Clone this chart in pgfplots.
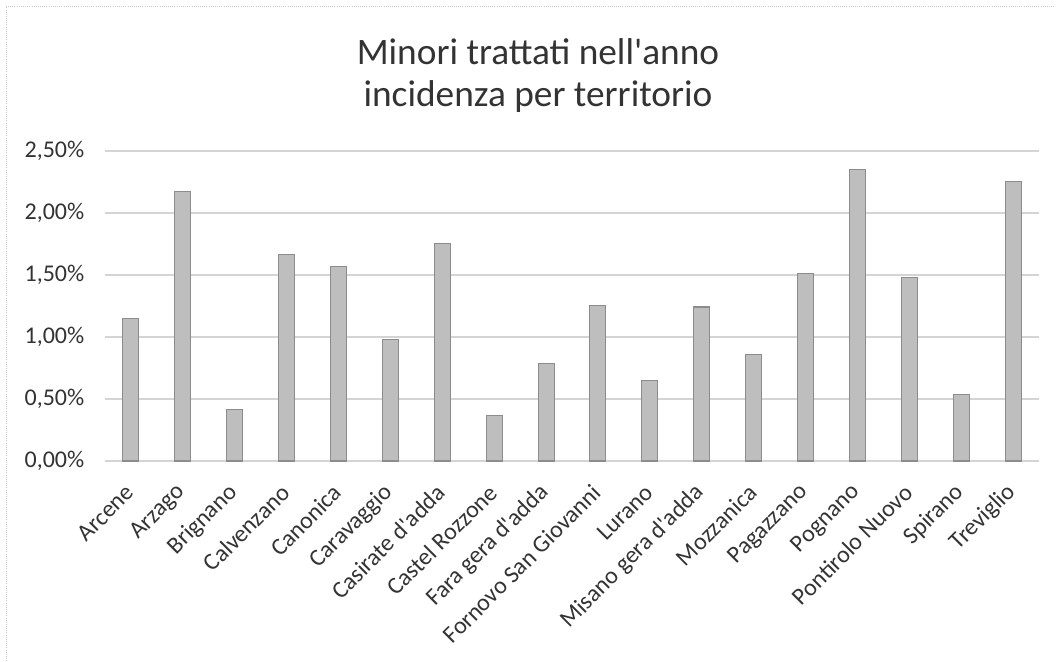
\documentclass[border=0pt]{standalone}
\usepackage{pgfplots}
\pgfplotsset{compat=1.18}
\usepackage{fontspec}
\setmainfont{Carlito}
\definecolor{barfill}{HTML}{BEBEBE}
\definecolor{barline}{HTML}{8C8C8C}
\definecolor{gridc}{HTML}{D4D4D4}
\definecolor{txt}{HTML}{333333}
\begin{document}
\begin{tikzpicture}
\path[use as bounding box] (-78.75pt,-150pt) rectangle (713.25pt,345.75pt);
\draw[gray!45, densely dotted, line width=0.6pt] (-74.25pt,-150pt) -- (-74.25pt,341.25pt) -- (713.25pt,341.25pt);
\node[anchor=base, text=txt, font=\fontsize{28}{33}\selectfont] at (324.75pt,297.5pt) {Minori trattati nell\textquotesingle anno};
\node[anchor=base, text=txt, font=\fontsize{28}{33}\selectfont] at (324.75pt,266pt) {incidenza per territorio};
\begin{axis}[
  at={(0pt,0pt)}, anchor=south west,
  scale only axis, width=700.5pt, height=232.5pt,
  xmin=-0.5, xmax=17.5, ymin=0, ymax=2.5,
  ytick={0,0.5,1,1.5,2,2.5},
  xtick={0,...,17},
  xticklabels={Arcene,Arzago,Brignano,Calvenzano,Canonica,Caravaggio,Casirate d\textquotesingle adda,Castel Rozzone,Fara gera d\textquotesingle adda,Fornovo San Giovanni,Lurano,Misano gera d\textquotesingle adda,Mozzanica,Pagazzano,Pognano,Pontirolo Nuovo,Spirano,Treviglio},
  x tick label style={xshift=0pt, yshift=-20pt, rotate=45, anchor=east, font=\fontsize{18}{21}\selectfont, text=txt, inner sep=1pt},
  y tick label style={font=\fontsize{18}{21}\selectfont, text=txt, xshift=-12pt},
  yticklabel={\pgfmathprintnumber[fixed,fixed zerofill,precision=2,use comma,assume math mode=true]{\tick}\%},
  /pgf/number format/assume math mode=true,
  axis line style={draw=none},
  major tick length=0pt,
  ymajorgrids, grid style={gridc, line width=0.8pt},
  ybar, bar width=12pt,
]
\addplot[fill=barfill, draw=barline, line width=0.8pt] coordinates {
(0,1.150) (1,2.175) (2,0.418) (3,1.668) (4,1.566) (5,0.978)
(6,1.754) (7,0.369) (8,0.784) (9,1.253) (10,0.652) (11,1.242)
(12,0.859) (13,1.512) (14,2.350) (15,1.482) (16,0.539) (17,2.255)
};
\end{axis}
\end{tikzpicture}
\end{document}
